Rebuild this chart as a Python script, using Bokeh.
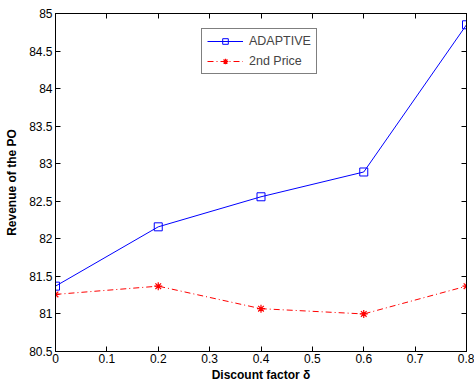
from bokeh.plotting import figure
from bokeh.models import LinearAxis, Legend, LegendItem, FixedTicker, Range1d
from bokeh.embed import file_html
from bokeh.resources import INLINE

delta = [0.0, 0.2, 0.4, 0.6, 0.8]
adaptive = [81.37, 82.16, 82.56, 82.89, 84.85]
second_price = [81.26, 81.37, 81.07, 81.00, 81.37]
x_ticks = [0, 0.1, 0.2, 0.3, 0.4, 0.5, 0.6, 0.7, 0.8]
y_ticks = [80.5, 81, 81.5, 82, 82.5, 83, 83.5, 84, 84.5, 85]

FONT = "Liberation Sans"

p = figure(width=474, height=384, output_backend="svg", toolbar_location=None,
           x_range=Range1d(0, 0.8), y_range=Range1d(80.5, 85),
           min_border_left=55, min_border_right=8, min_border_top=13, min_border_bottom=33)
p.grid.visible = False
p.outline_line_color = "black"
p.outline_line_width = 1
p.background_fill_color = "white"

for ax in (p.xaxis[0], p.yaxis[0]):
    ax.major_tick_in = 5
    ax.major_tick_out = 0
    ax.minor_tick_line_color = None
    ax.axis_line_color = "black"
    ax.major_label_text_font = FONT
    ax.major_label_text_font_size = "12px"
    ax.major_label_text_color = "black"
    ax.axis_label_text_font = FONT
    ax.axis_label_text_font_size = "12px"
    ax.axis_label_text_font_style = "bold"
    ax.axis_label_text_color = "black"

p.xaxis[0].ticker = FixedTicker(ticks=x_ticks)
p.yaxis[0].ticker = FixedTicker(ticks=y_ticks)
p.xaxis[0].axis_label = "Discount factor δ"
p.yaxis[0].axis_label = "Revenue of the PO"
p.xaxis[0].major_label_standoff = 2
p.yaxis[0].major_label_standoff = 3
p.xaxis[0].axis_label_standoff = 2
p.yaxis[0].axis_label_standoff = 7

top = LinearAxis(ticker=FixedTicker(ticks=x_ticks),
                 major_label_overrides={t: "" for t in x_ticks},
                 major_tick_in=5, major_tick_out=0, minor_tick_line_color=None,
                 major_label_standoff=0)
right = LinearAxis(ticker=FixedTicker(ticks=y_ticks),
                   major_label_overrides={t: "" for t in y_ticks},
                   major_tick_in=5, major_tick_out=0, minor_tick_line_color=None,
                   major_label_standoff=0)
p.add_layout(top, "above")
p.add_layout(right, "right")

l1 = p.line(delta, adaptive, line_color="blue", line_width=1)
m1 = p.scatter(delta, adaptive, marker="square", size=8, fill_color=None, line_color="blue", line_width=1)
l2 = p.line(delta, second_price, line_color="red", line_width=1, line_dash="6 3 1 3")
m2 = p.scatter(delta, second_price, marker="asterisk", size=8, line_color="red", line_width=1.2)

legend = Legend(items=[LegendItem(label="ADAPTIVE", renderers=[l1, m1]),
                       LegendItem(label="2nd Price", renderers=[l2, m2])],
                location=(146, 277))
legend.border_line_color = "black"
legend.border_line_width = 1
legend.label_text_font = FONT
legend.label_text_font_size = "12.5px"
legend.glyph_width = 36
legend.glyph_height = 14
legend.label_height = 14
legend.padding = 5
legend.spacing = 6
legend.margin = 0
legend.label_standoff = 6
p.add_layout(legend, "center")

open("out.html", "w").write(file_html(p, INLINE))
